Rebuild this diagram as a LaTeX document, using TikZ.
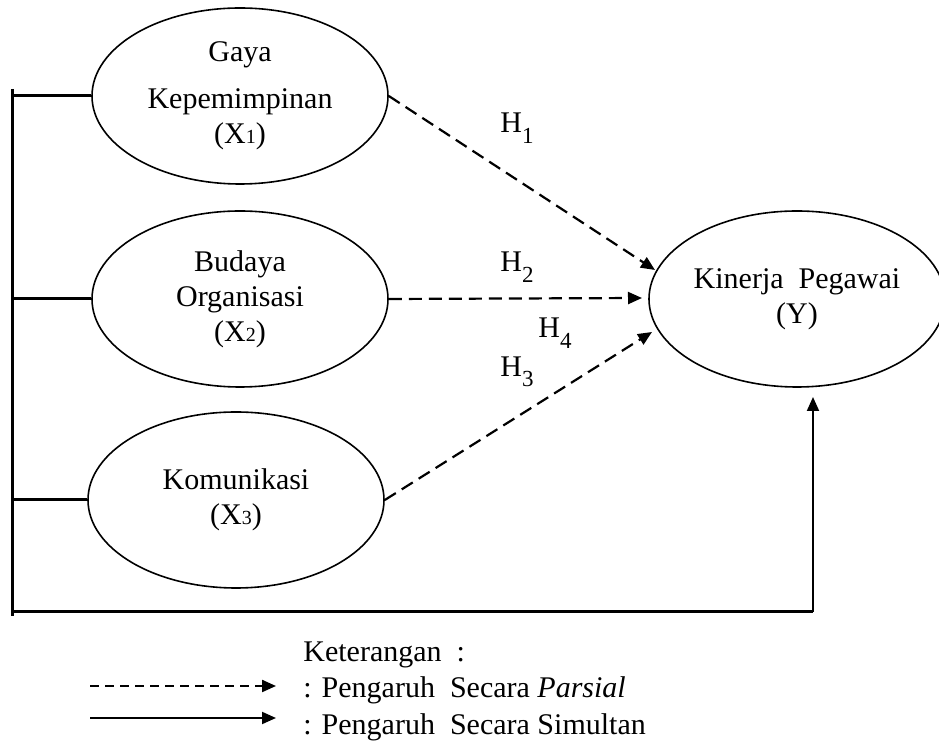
\documentclass[tikz,border=0pt]{standalone}
\usepackage{fontspec}
\setmainfont{Liberation Serif}
\usetikzlibrary{shapes.geometric,arrows.meta}
\begin{document}
\begin{tikzpicture}[x=0.5pt,y=-0.5pt,
  every node/.style={font=\fontsize{15}{17.5}\selectfont},
  var/.style={draw,ellipse,line width=0.8pt,minimum width=148pt,minimum height=88pt,inner sep=0pt,align=center},
  frame/.style={line width=1.5pt},
  solidarrow/.style={line width=1pt,-{Triangle[length=7pt,width=6pt]}},
  dasharrow/.style={line width=1.1pt,dash pattern=on 6.5pt off 3.5pt,-{Triangle[length=7pt,width=6pt]}},
  legdash/.style={line width=1.1pt,dash pattern=on 4.5pt off 3pt,-{Triangle[length=7pt,width=6pt]}},
  hlabel/.style={inner sep=0pt}]
\useasboundingbox (0,0) rectangle (939,742);
\newcommand{\sub}[1]{{\fontsize{10}{10}\selectfont #1}}
\newcommand{\hsub}[1]{\raisebox{-0.35em}{\fontsize{11.5}{11.5}\selectfont #1}}
% nodes
\node[var] (X1) at (240,96) {Gaya\\[6pt]Kepemimpinan\\(X\sub{1})};
\node[var] (X2) at (240,299) {Budaya\\Organisasi\\(X\sub{2})};
\node[var] (X3) at (236,500) {Komunikasi\\(X\sub{3})};
\node[var] (Y) at (797,299) {Kinerja~ Pegawai\\(Y)};
% frame
\coordinate (top) at (12,89);
\coordinate (bot) at (12,616);
\coordinate (corner) at (813,612);
\coordinate (ytip) at (813,397);
\draw[frame] (top) -- (bot);
\draw[frame] (X1.west) -- (X1.west -| top);
\draw[frame] (X2.west) -- (X2.west -| top);
\draw[frame] (X3.west) -- (X3.west -| top);
\draw[frame] (12,612) -- (corner);
\draw[solidarrow] (corner) -- (ytip);
% dashed arrows
\coordinate (t1) at (655,270);
\coordinate (t2) at (642,298);
\coordinate (t3) at (652,332);
\draw[dasharrow] (X1.east) -- (t1);
\draw[dasharrow] (X2.east) -- (t2);
\draw[dasharrow] (X3.east) -- (t3);
% labels
\node[hlabel] (h1) at (517,128) {H\hsub{1}};
\node[hlabel] (h2) at (517,267) {H\hsub{2}};
\node[hlabel] (h4) at (555,333) {H\hsub{4}};
\node[hlabel] (h3) at (517,372) {H\hsub{3}};
% legend
\node[anchor=base west,inner sep=0pt] (k0) at (303,662) {Keterangan~ :};
\node[anchor=base west,inner sep=0pt] (k1) at (303,698) {: Pengaruh~ Secara \textit{Parsial}};
\node[anchor=base west,inner sep=0pt] (k2) at (303,735) {: Pengaruh~ Secara Simultan};
\coordinate (l1a) at (90,686);
\coordinate (l1b) at (276,686);
\coordinate (l2a) at (90,718);
\coordinate (l2b) at (276,718);
\draw[legdash] (l1a) -- (l1b);
\draw[solidarrow] (l2a) -- (l2b);
\end{tikzpicture}
\end{document}
